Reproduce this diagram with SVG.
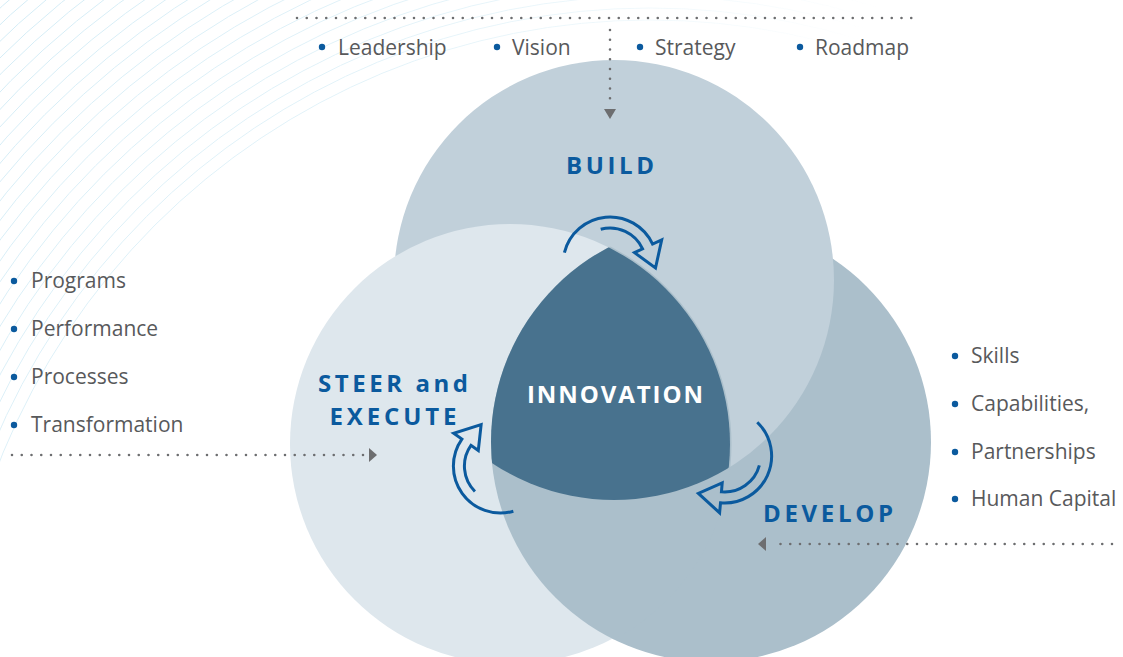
<svg xmlns="http://www.w3.org/2000/svg" width="1123" height="657" viewBox="0 0 1123 657">
  <style>
    .item { font-family: "Open Sans", "Noto Sans", sans-serif; font-size: 21px; fill: #58595b; }
    .dot { fill: #0b5a9e; }
    .label { font-family: "Open Sans", "Noto Sans", sans-serif; font-size: 24px; font-weight: 700; fill: #0b5a9e; }
    .leader { fill: none; stroke: #6d6e70; stroke-width: 2.6; stroke-linecap: round; stroke-dasharray: 0 9.75; }
    .head { fill: #6d6e70; }
    .cycle { fill: none; stroke: #0b5a9e; stroke-width: 3; stroke-linejoin: miter; }
    .wave { fill: none; stroke: #d3ecf6; stroke-width: 1; }
  </style>
  <defs>
    <clipPath id="clip-build"><circle cx="614" cy="280" r="220"/></clipPath>
    <clipPath id="clip-steer"><circle cx="510" cy="444" r="220"/></clipPath>
    <clipPath id="clip-steer-wide"><circle cx="510" cy="444" r="221.5"/></clipPath>
    <linearGradient id="fade" x1="0" y1="0" x2="1" y2="0.35">
      <stop offset="0" stop-color="#fff"/>
      <stop offset="0.35" stop-color="#fff" stop-opacity="0.6"/>
      <stop offset="0.7" stop-color="#fff" stop-opacity="0"/>
    </linearGradient>
    <mask id="wave-mask"><rect x="0" y="0" width="1123" height="657" fill="url(#fade)"/></mask>
    <!-- curved cycle arrow, drawn around its own centre -->
    <path id="cycle-arrow" class="cycle" d="M -45.6 -11.4 A 47 47 0 0 1 42.6 -19.9 L 51.7 -24.1 L 45.5 4 L 24.5 -11.4 L 32.6 -15.2 A 36 36 0 0 0 -9.3 -34.8"/>
  </defs>

  <rect width="1123" height="657" fill="#ffffff"/>

  <!-- faint background texture -->
  <g id="texture" mask="url(#wave-mask)">
    <circle class="wave" cx="650" cy="720" r="700"/>
    <circle class="wave" cx="650" cy="720" r="712"/>
    <circle class="wave" cx="650" cy="720" r="724"/>
    <circle class="wave" cx="650" cy="720" r="736"/>
    <circle class="wave" cx="650" cy="720" r="748"/>
    <circle class="wave" cx="650" cy="720" r="760"/>
    <circle class="wave" cx="650" cy="720" r="772"/>
    <circle class="wave" cx="650" cy="720" r="784"/>
    <circle class="wave" cx="650" cy="720" r="796"/>
    <circle class="wave" cx="650" cy="720" r="808"/>
    <circle class="wave" cx="650" cy="720" r="820"/>
    <circle class="wave" cx="650" cy="720" r="832"/>
    <circle class="wave" cx="650" cy="720" r="844"/>
    <circle class="wave" cx="650" cy="720" r="856"/>
    <circle class="wave" cx="650" cy="720" r="868"/>
    <circle class="wave" cx="650" cy="720" r="880"/>
    <circle class="wave" cx="650" cy="720" r="892"/>
    <circle class="wave" cx="650" cy="720" r="904"/>
    <circle class="wave" cx="650" cy="720" r="916"/>
    <circle class="wave" cx="650" cy="720" r="928"/>
    <circle class="wave" cx="650" cy="720" r="940"/>
    <circle class="wave" cx="650" cy="720" r="952"/>
    <circle class="wave" cx="650" cy="720" r="964"/>
  </g>

  <!-- three overlapping circles, each sitting over the next -->
  <g id="develop">
    <circle cx="711" cy="442" r="220" fill="#abbfcb"/>
  </g>
  <g id="build">
    <circle cx="614" cy="280" r="220" fill="#c1d0da"/>
    <text class="label" x="610" y="174" text-anchor="middle" textLength="88" lengthAdjust="spacing">BUILD</text>
  </g>
  <g id="steer">
    <circle cx="510" cy="444" r="220" fill="#dee7ed"/>
    <text class="label" x="393" y="392" text-anchor="middle" textLength="150" lengthAdjust="spacing">STEER and</text>
    <text class="label" x="393" y="425" text-anchor="middle" textLength="127" lengthAdjust="spacing">EXECUTE</text>
  </g>
  <g id="develop-front" clip-path="url(#clip-steer-wide)">
    <circle cx="711" cy="442" r="220" fill="#abbfcb"/>
  </g>
  <g id="develop-label">
    <text class="label" x="828" y="522" text-anchor="middle" textLength="130" lengthAdjust="spacing">DEVELOP</text>
  </g>
  <g id="innovation">
    <g clip-path="url(#clip-build)">
      <g clip-path="url(#clip-steer)">
        <circle cx="711" cy="442" r="220" fill="#48728e"/>
      </g>
    </g>
    <text class="label" x="615" y="403" text-anchor="middle" textLength="176" lengthAdjust="spacing" style="fill:#ffffff">INNOVATION</text>
  </g>

  <!-- cycle arrows and dotted leaders -->
  <g id="connectors">
    <use href="#cycle-arrow" transform="translate(610 394) translate(0 -130)"/>
    <use href="#cycle-arrow" transform="translate(612 391) rotate(120) translate(0 -130)"/>
    <use href="#cycle-arrow" transform="translate(613 401) rotate(240) translate(0 -130)"/>

    <line class="leader" x1="297" y1="18" x2="918" y2="18"/>
    <line class="leader" x1="610" y1="30" x2="610" y2="104"/>
    <polygon class="head" points="604,109 616,109 610,119"/>

    <line class="leader" x1="12" y1="455" x2="364" y2="455"/>
    <polygon class="head" points="369,448 369,462 377,455"/>

    <line class="leader" x1="1112" y1="544" x2="772" y2="544"/>
    <polygon class="head" points="766,537 766,551 758,544"/>
  </g>

  <!-- bullet lists -->
  <g id="build-items">
    <circle class="dot" cx="322" cy="47" r="3.2"/>
    <text class="item" x="338" y="55">Leadership</text>
    <circle class="dot" cx="497" cy="47" r="3.2"/>
    <text class="item" x="512" y="55">Vision</text>
    <circle class="dot" cx="640" cy="47" r="3.2"/>
    <text class="item" x="655" y="55">Strategy</text>
    <circle class="dot" cx="800" cy="47" r="3.2"/>
    <text class="item" x="815" y="55">Roadmap</text>
  </g>
  <g id="steer-items">
    <circle class="dot" cx="14" cy="281" r="3.2"/>
    <text class="item" x="31" y="288">Programs</text>
    <circle class="dot" cx="14" cy="329" r="3.2"/>
    <text class="item" x="31" y="336">Performance</text>
    <circle class="dot" cx="14" cy="377" r="3.2"/>
    <text class="item" x="31" y="384">Processes</text>
    <circle class="dot" cx="14" cy="425" r="3.2"/>
    <text class="item" x="31" y="432">Transformation</text>
  </g>
  <g id="develop-items">
    <circle class="dot" cx="955" cy="356" r="3.2"/>
    <text class="item" x="971" y="363">Skills</text>
    <circle class="dot" cx="955" cy="404" r="3.2"/>
    <text class="item" x="971" y="411">Capabilities,</text>
    <circle class="dot" cx="955" cy="452" r="3.2"/>
    <text class="item" x="971" y="459">Partnerships</text>
    <circle class="dot" cx="955" cy="499" r="3.2"/>
    <text class="item" x="971" y="506">Human Capital</text>
  </g>
</svg>
